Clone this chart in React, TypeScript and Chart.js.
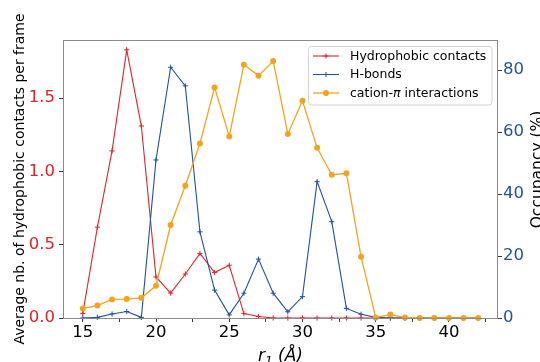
import React, { useEffect, useRef } from 'react';
import { Chart, registerables } from 'chart.js';

Chart.register(...registerables);

// ---- data ----
const rValues = [15, 16, 17, 18, 19, 20, 21, 22, 23, 24, 25, 26, 27, 28, 29, 30, 31, 32, 33, 34, 35, 36, 37, 38, 39, 40, 41, 42];
const hydrophobic = [0.03, 0.62, 1.14, 1.83, 1.31, 0.28, 0.17, 0.30, 0.44, 0.31, 0.36, 0.03, 0.01, 0, 0, 0, 0, 0, 0, 0, 0, 0, 0, 0, 0, 0, 0, 0];
const hBonds = [0, 0.2, 1.3, 2.1, 0.2, 51, 80.9, 74.9, 27.8, 9.0, 1.0, 8.0, 19.0, 8.0, 2.0, 6.9, 44.0, 31.1, 3.1, 1.2, 0.2, 0, 0, 0, 0, 0, 0, 0];
const cationPi = [3.1, 4.0, 6.0, 6.1, 6.5, 10.4, 30.0, 42.7, 56.3, 74.4, 58.6, 81.7, 78.2, 82.9, 59.4, 70.1, 54.9, 46.2, 46.7, 19.8, 0.2, 1.1, 0.2, 0, 0, 0, 0, 0];

const xTickValues = [15, 17.5, 20, 22.5, 25, 27.5, 30, 32.5, 35, 37.5, 40, 42.5];
const leftTickValues = [0, 0.5, 1.0, 1.5];
const rightTickValues = [0, 20, 40, 60, 80];

const seriesNames = ['Hydrophobic contacts', 'H-bonds', 'cation-π interactions'];
const leftTitle = 'Average nb. of hydrophobic contacts per frame';
const rightTitle = 'Occupancy (%)';

const RED = '#e0232b';
const BLUE = '#2451a0';
const ORANGE = '#f5a31e';
const FONT = '"DejaVu Sans", sans-serif';

const decorPlugin = {
  id: 'decor',
  afterDraw(chart: any) {
    const ctx = chart.ctx as CanvasRenderingContext2D;
    const ca = chart.chartArea;
    ctx.save();
    // frame
    ctx.strokeStyle = '#8a8a8a';
    ctx.lineWidth = 1;
    ctx.strokeRect(ca.left + 0.5, ca.top + 0.5, ca.right - ca.left - 1, ca.bottom - ca.top);

    // left title
    ctx.fillStyle = '#000';
    ctx.font = `14px ${FONT}`;
    ctx.textAlign = 'center';
    ctx.textBaseline = 'alphabetic';
    ctx.save();
    ctx.translate(23.5, (ca.top + ca.bottom) / 2);
    ctx.rotate(-Math.PI / 2);
    ctx.fillText(leftTitle, 0, 0);
    ctx.restore();

    // right title
    ctx.font = `15.5px ${FONT}`;
    ctx.save();
    ctx.translate(541.5, 169.5);
    ctx.rotate(-Math.PI / 2);
    ctx.fillText(rightTitle, 0, 0);
    ctx.restore();

    // x title: r_1 (Å)
    const big = `italic 17px ${FONT}`;
    const small = `italic 12px ${FONT}`;
    ctx.textAlign = 'left';
    ctx.font = big;
    const wR = ctx.measureText('r').width;
    const wRest = ctx.measureText(' (Å)').width;
    ctx.font = small;
    const w1 = ctx.measureText('1').width;
    const total = wR + w1 + wRest;
    let x = (ca.left + ca.right) / 2 - total / 2;
    const by = 361;
    ctx.font = big;
    ctx.fillText('r', x, by);
    x += wR;
    ctx.font = small;
    ctx.fillText('1', x, by + 3.5);
    x += w1;
    ctx.font = big;
    ctx.fillText(' (Å)', x, by);

    // legend
    const bx = 308.5, bY = 46.5, bw = 183.5, bh = 58.5;
    ctx.beginPath();
    const r = 3;
    ctx.moveTo(bx + r, bY);
    ctx.lineTo(bx + bw - r, bY);
    ctx.arcTo(bx + bw, bY, bx + bw, bY + r, r);
    ctx.lineTo(bx + bw, bY + bh - r);
    ctx.arcTo(bx + bw, bY + bh, bx + bw - r, bY + bh, r);
    ctx.lineTo(bx + r, bY + bh);
    ctx.arcTo(bx, bY + bh, bx, bY + bh - r, r);
    ctx.lineTo(bx, bY + r);
    ctx.arcTo(bx, bY, bx + r, bY, r);
    ctx.closePath();
    ctx.fillStyle = 'rgba(255,255,255,0.85)';
    ctx.fill();
    ctx.strokeStyle = '#d4d4d4';
    ctx.stroke();

    const rows = [56, 74.5, 93];
    const colors = [RED, BLUE, ORANGE];
    rows.forEach((ry, i) => {
      ctx.strokeStyle = colors[i];
      ctx.lineWidth = i === 2 ? 1.3 : 1.1;
      ctx.beginPath();
      ctx.moveTo(313, ry);
      ctx.lineTo(339, ry);
      ctx.stroke();
      const mx = 326;
      if (i < 2) {
        ctx.lineWidth = 1;
        ctx.beginPath();
        ctx.moveTo(mx, ry - 2.5);
        ctx.lineTo(mx, ry + 2.5);
        ctx.moveTo(mx - 2.5, ry);
        ctx.lineTo(mx + 2.5, ry);
        ctx.stroke();
      } else {
        ctx.fillStyle = ORANGE;
        ctx.beginPath();
        ctx.arc(mx, ry, 3, 0, Math.PI * 2);
        ctx.fill();
      }
      ctx.fillStyle = '#000';
      ctx.textAlign = 'left';
      ctx.textBaseline = 'middle';
      const ty = ry + 0.5;
      if (i < 2) {
        ctx.font = `12.5px ${FONT}`;
        ctx.fillText(seriesNames[i], 350, ty);
      } else {
        const name = seriesNames[i];
        const idx = name.indexOf('π');
        const a = name.slice(0, idx);
        const b = name.slice(idx + 1);
        let tx = 350;
        ctx.font = `12.5px ${FONT}`;
        ctx.fillText(a, tx, ty);
        tx += ctx.measureText(a).width;
        ctx.font = `italic 12.5px ${FONT}`;
        ctx.fillText('π', tx, ty);
        tx += ctx.measureText('π').width;
        ctx.font = `12.5px ${FONT}`;
        ctx.fillText(b, tx, ty);
      }
    });
    ctx.restore();
  },
};

export default function App() {
  const ref = useRef<HTMLCanvasElement | null>(null);

  useEffect(() => {
    document.body.style.margin = '0';
    const canvas = ref.current;
    if (!canvas) return;
    const tickGrid = {
      display: true,
      drawOnChartArea: false,
      drawTicks: true,
      tickLength: 4,
      color: '#3a3a3a',
      lineWidth: 1,
    };
    const chart = new Chart(canvas, {
      type: 'line',
      data: {
        datasets: [
          {
            label: seriesNames[0],
            data: rValues.map((x, i) => ({ x, y: hydrophobic[i] })),
            yAxisID: 'y',
            borderColor: RED,
            backgroundColor: RED,
            borderWidth: 1.1,
            pointStyle: 'cross',
            pointRadius: 2.6,
            pointBorderWidth: 1,
            tension: 0,
            clip: false,
            order: 3,
          },
          {
            label: seriesNames[1],
            data: rValues.map((x, i) => ({ x, y: hBonds[i] })),
            yAxisID: 'y2',
            borderColor: BLUE,
            backgroundColor: BLUE,
            borderWidth: 1.1,
            pointStyle: 'cross',
            pointRadius: 2.6,
            pointBorderWidth: 1,
            tension: 0,
            clip: false,
            order: 2,
          },
          {
            label: seriesNames[2],
            data: rValues.map((x, i) => ({ x, y: cationPi[i] })),
            yAxisID: 'y2',
            borderColor: ORANGE,
            backgroundColor: ORANGE,
            borderWidth: 1.3,
            pointStyle: 'circle',
            pointRadius: 3,
            pointBorderWidth: 0,
            tension: 0,
            clip: false,
            order: 1,
          },
        ] as any,
      },
      options: {
        animation: false,
        responsive: false,
        events: [],
        layout: { padding: { top: 40, left: 0, right: 0, bottom: 0 } },
        plugins: { legend: { display: false }, tooltip: { enabled: false } },
        scales: {
          x: {
            type: 'linear',
            min: 13.65,
            max: 43.35,
            afterBuildTicks: (s: any) => {
              s.ticks = xTickValues.map((v) => ({ value: v }));
            },
            afterFit: (s: any) => {
              s.height = 44;
            },
            ticks: {
              autoSkip: false,
              maxRotation: 0,
              padding: 1,
              color: '#000',
              font: { family: FONT, size: 16.5 },
              callback: (v: any) => (Number(v) % 5 === 0 ? String(v) : ''),
            },
            grid: tickGrid,
            border: { display: false },
          },
          y: {
            type: 'linear',
            position: 'left',
            min: 0,
            max: 1.897,
            afterBuildTicks: (s: any) => {
              s.ticks = leftTickValues.map((v) => ({ value: v }));
            },
            afterFit: (s: any) => {
              s.width = 63;
            },
            ticks: {
              padding: 4,
              color: RED,
              font: { family: FONT, size: 16.5 },
              callback: (v: any) => Number(v).toFixed(1),
            },
            grid: tickGrid,
            border: { display: false },
          },
          y2: {
            type: 'linear',
            position: 'right',
            min: 0,
            max: 89.7,
            afterBuildTicks: (s: any) => {
              s.ticks = rightTickValues.map((v) => ({ value: v }));
            },
            afterFit: (s: any) => {
              s.width = 42;
            },
            ticks: {
              padding: 1,
              color: BLUE,
              font: { family: FONT, size: 16.5 },
              callback: (v: any) => String(v),
            },
            grid: tickGrid,
            border: { display: false },
          },
        },
      } as any,
      plugins: [decorPlugin],
    });
    return () => chart.destroy();
  }, []);

  return (
    <div style={{ position: 'absolute', left: 0, top: 0, width: 540, height: 362 }}>
      <canvas ref={ref} width={540} height={362} style={{ display: 'block', width: 540, height: 362 }} />
    </div>
  );
}
